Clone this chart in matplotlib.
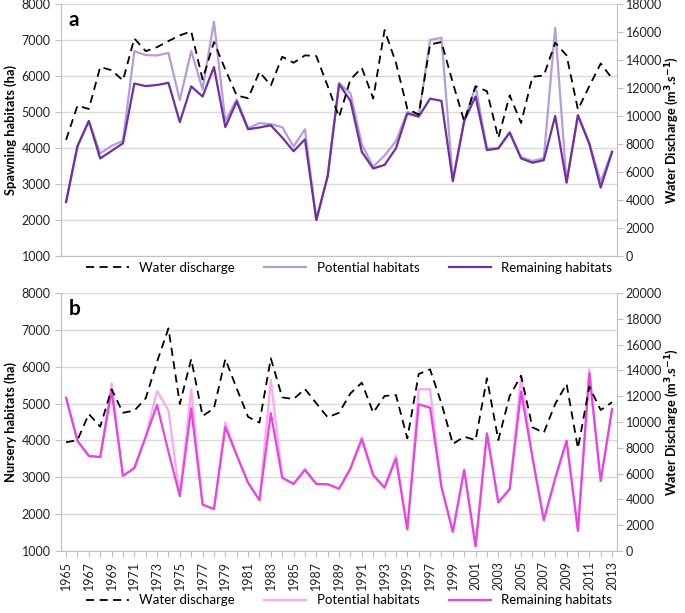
import numpy as np
import matplotlib.pyplot as plt

plt.rcParams['font.family'] = ['Lato', 'DejaVu Sans']
plt.rcParams['mathtext.fontset'] = 'dejavusans'

years = list(range(1965, 2014))

# panel a - spawning
spawn_potential = [2500, 4050, 4750, 3850, 4060, 4200, 6690, 6580, 6570, 6640, 5330, 6690, 5630, 7510, 4750,
                   5350, 4550, 4690, 4660, 4580, 4040, 4520, 2000, 3220, 5800, 5520, 4100, 3480, 3790, 4190,
                   5000, 4900, 7000, 7060, 3100, 4750, 5710, 3990, 3990, 4430, 3750, 3640, 3720, 7340, 3040,
                   4910, 4120, 3070, 3900]
spawn_remaining = [2500, 4050, 4750, 3710, 3920, 4130, 5790, 5720, 5750, 5810, 4720, 5710, 5430, 6250, 4580,
                   5290, 4520, 4570, 4630, 4290, 3910, 4240, 2000, 3220, 5780, 5310, 3890, 3430, 3530, 3990,
                   4960, 4870, 5370, 5310, 3080, 4750, 5430, 3940, 3990, 4430, 3710, 3590, 3660, 4890, 3040,
                   4910, 4120, 2900, 3890]
spawn_discharge = [8300, 10740, 10500, 13500, 13270, 12540, 15540, 14630, 14920, 15350, 15760, 16040, 12610,
                   15280, 13320, 11460, 11270, 13150, 12180, 14230, 13800, 14330, 14280, 12130, 9930, 12610,
                   13440, 11250, 16140, 13800, 10510, 10100, 15110, 15280, 12370, 9620, 12130, 11770, 8430,
                   11480, 9500, 12800, 12890, 15230, 14330, 10460, 12130, 13750, 12680]

# panel b - nursery
nursery_potential = [5160, 3990, 3580, 3550, 5550, 3040, 3250, 4100, 5340, 4810, 2490, 5390, 2260, 2140, 4490,
                     3600, 2850, 2380, 5640, 2990, 2820, 3230, 2820, 2810, 2690, 3240, 4100, 3060, 2720, 3580,
                     1590, 5390, 5390, 2740, 1520, 3200, 1130, 4190, 2320, 2680, 5750, 3540, 1840, 2970, 3990,
                     1550, 5930, 2900, 4850]
nursery_remaining = [5160, 3990, 3580, 3550, 5350, 3040, 3250, 4100, 4960, 3690, 2490, 4870, 2260, 2140, 4360,
                     3600, 2850, 2380, 4740, 2990, 2820, 3200, 2820, 2810, 2690, 3240, 4030, 3060, 2720, 3510,
                     1590, 4980, 4890, 2740, 1520, 3200, 1130, 4190, 2320, 2680, 5320, 3540, 1840, 2970, 3990,
                     1550, 5820, 2900, 4850]
nursery_discharge = [8430, 8600, 10620, 9640, 12540, 10720, 10880, 11840, 14680, 17260, 11400, 14880, 10470,
                     11060, 14880, 12600, 10400, 9950, 14940, 11910, 11780, 12560, 11450, 10360, 10720, 12220,
                     13050, 10720, 12020, 12090, 8730, 13720, 14080, 11450, 8300, 8860, 8600, 13390, 8600, 12020,
                     13590, 9590, 9170, 11400, 12950, 7960, 12740, 10930, 11530]

x = np.arange(len(years))
grey = '#BFBFBF'
right_label = r'Water Discharge (m$^{\mathbf{3}}$.s$^{\mathbf{-1}}$)'

fig = plt.figure(figsize=(6.85, 6.13), dpi=100)


def panel(rect, potential, remaining, discharge, c_pot, c_rem, ylabel, letter, q_max, legend_y, show_x):
    ax = fig.add_axes(rect)
    ax.set_ylim(1000, 8000)
    ax.set_xlim(-0.45, len(x) - 0.55)
    ax.set_yticks(range(1000, 8001, 1000))
    ax.grid(axis='y', color='#D9D9D9', lw=1)
    ax.set_axisbelow(True)
    l2, = ax.plot(x, potential, c=c_pot, lw=1.6, label='Potential habitats')
    l3, = ax.plot(x, remaining, c=c_rem, lw=1.6, label='Remaining habitats')
    for s in ['left', 'bottom']:
        ax.spines[s].set_color(grey)
    ax.spines['top'].set_visible(False)
    ax.spines['right'].set_visible(False)
    ax.tick_params(axis='y', colors=grey, labelcolor='#222222', labelsize=9, length=4)
    ax.set_ylabel(ylabel, fontsize=9.3, fontweight='bold', labelpad=3)
    if show_x:
        ax.set_xticks(x)
        ax.set_xticklabels([str(y) if i % 2 == 0 else '' for i, y in enumerate(years)], rotation=90)
        ax.tick_params(axis='x', colors=grey, labelcolor='#222222', labelsize=9, length=4)
    else:
        ax.set_xticks([])
    ax.text(0.014, 0.975, letter, transform=ax.transAxes, fontsize=15, fontweight='bold', va='top')

    ax2 = ax.twinx()
    ax2.set_ylim(0, q_max)
    ax2.set_yticks(range(0, q_max + 1, 2000))
    l1, = ax2.plot(x, discharge, c='k', lw=1.3, dashes=(4.5, 3), label='Water discharge')
    for s in ['left', 'top', 'bottom']:
        ax2.spines[s].set_visible(False)
    ax2.spines['right'].set_color(grey)
    ax2.tick_params(axis='y', colors=grey, labelcolor='#222222', labelsize=9, length=4, pad=2)
    ax2.set_ylabel(right_label, fontsize=9.2, fontweight='bold', labelpad=1)

    fig.legend(handles=[l1, l2, l3], loc='center', bbox_to_anchor=(0.51, legend_y), ncol=3, frameon=False,
               fontsize=9.5, handlelength=3.2, columnspacing=2.2)


panel([0.089, 0.5824, 0.812, 0.4111], spawn_potential, spawn_remaining, spawn_discharge,
      '#B39DDB', '#7030A0', 'Spawning habitats (ha)', 'a', 18000, 0.563, False)
panel([0.089, 0.1011, 0.812, 0.4209], nursery_potential, nursery_remaining, nursery_discharge,
      '#FFA6F4', '#E545E0', 'Nursery habitats (ha)', 'b', 20000, 0.021, True)

plt.savefig('out.png', dpi=100)
